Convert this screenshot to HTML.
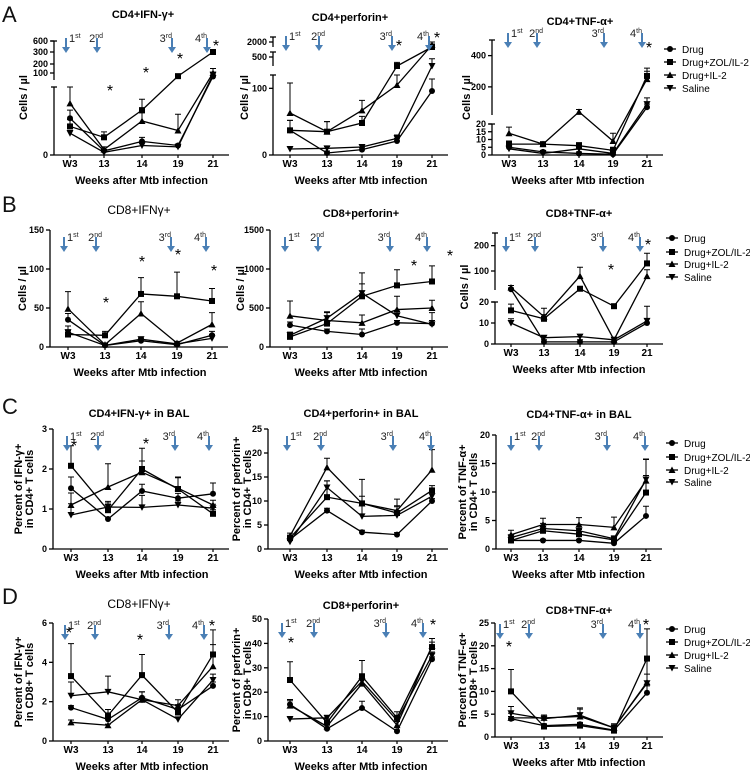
<!DOCTYPE html>
<html><head><meta charset="utf-8">
<style>
body{margin:0;background:#fff;}
svg{display:block;font-family:"Liberation Sans",Arial,sans-serif;}
</style></head>
<body>
<svg id="fig" width="750" height="770" viewBox="0 0 750 770"></svg>
<script>
const weeks=["W3","13","14","19","21"];
const seriesNames=["Drug","Drug+ZOL/IL-2","Drug+IL-2","Saline"];
// A1 CD4+IFN-g+
const A1_drug=[27,3,10,7,80];
const A1_zol=[21,13,33,82,300];
const A1_il2=[38,4,25,18,100];
const A1_sal=[16,2,7,6,90];
const A1_err=[[6,1,3,1,20],[5,4,8,10,40],[12,2,6,12,50],[2,1,2,1,20]];
// A2 CD4+perforin+
const A2_drug=[37,3,8,21,96];
const A2_zol=[37,35,48,400,1500];
const A2_il2=[63,35,67,105,1700];
const A2_sal=[9,10,12,25,400];
const A2_err=[[15,3,3,4,18],[15,15,10,40,300],[45,15,15,15,300],[3,3,3,5,80]];
// A3 CD4+TNF-a+
const A3_drug=[5,2,1,0.5,70];
const A3_zol=[7,7,6,3,270];
const A3_il2=[14,7,40,9,250];
const A3_sal=[4,1,4,1,90];
const A3_err=[[2,1,1,1,20],[2,1,2,2,50],[4,1,15,5,50],[2,1,1,1,40]];
// B1 CD8+IFNg+
const B1_drug=[35,2,8,3,15];
const B1_zol=[16,15,68,65,59];
const B1_il2=[49,3,43,5,29];
const B1_sal=[19,2,10,4,11];
const B1_err=[[8,1,3,1,5],[5,5,21,31,16],[22,1,15,2,15],[8,1,3,1,5]];
// B2 CD8+perforin+
const B2_drug=[280,200,160,310,300];
const B2_zol=[130,300,650,790,840];
const B2_il2=[400,340,310,480,500];
const B2_sal=[150,370,690,400,290];
const B2_err=[[40,30,70,30,40],[40,150,300,200,200],[190,100,100,170,100],[40,80,120,60,150]];
// B3 CD8+TNF-a+
const B3_drug=[28,1,1,1,10];
const B3_zol=[16,12,30,18,130];
const B3_il2=[35,13,80,2,80];
const B3_sal=[10,3,3.5,2,11];
const B3_err=[[5,1,1,1,2],[3,2,3,1,40],[8,4,35,1,25],[2,1,1,1,7]];
// C1
const C1_drug=[1.52,0.75,1.45,1.27,1.38];
const C1_zol=[2.08,0.97,2.0,1.5,0.88];
const C1_il2=[1.1,1.55,1.92,1.52,1.1];
const C1_sal=[0.85,1.05,1.04,1.1,1.02];
const C1_err=[[0.28,0.05,0.17,0.12,0.27],[0.5,0.22,0.52,0.28,0.1],[0.3,0.58,0.28,0.28,0.12],[0.28,0.1,0.3,0.1,0.1]];
// C2
const C2_drug=[2,8,3.5,3,10];
const C2_zol=[2.3,10.8,9.5,7.5,12.2];
const C2_il2=[2.7,17,9.5,8,16.5];
const C2_sal=[1.5,12.8,6.8,7,11];
const C2_err=[[0.5,0.5,0.4,0.4,0.5],[0.6,3.4,5,1.5,1],[0.6,1.9,1.5,2.4,4.2],[0.5,1.4,2.5,1.8,1.5]];
// C3
const C3_drug=[1.5,1.5,1.5,1.0,5.8];
const C3_zol=[1.5,3.2,2.6,1.6,9.9];
const C3_il2=[2.5,4.3,4.3,3.8,12];
const C3_sal=[2.0,3.6,3.2,1.8,12.2];
const C3_err=[[0.3,0.2,0.2,0.2,1.7],[0.4,0.7,0.8,0.3,3],[0.8,1.1,1.2,1.8,3.8],[0.5,0.9,1.1,0.5,3.5]];
// D1
const D1_drug=[1.7,1.1,2.2,1.6,2.8];
const D1_zol=[3.3,1.3,3.35,1.45,4.4];
const D1_il2=[0.95,0.8,2.1,1.8,3.8];
const D1_sal=[2.3,2.5,2.1,1.1,3.1];
const D1_err=[[0.1,0.1,0.3,0.2,0.2],[1.65,0.3,1.05,0.4,1.25],[0.12,0.06,0.4,0.3,1.1],[0.7,0.8,0.4,0.1,0.3]];
// D2
const D2_drug=[15,5,13.5,4,33.5];
const D2_zol=[25,7.5,26.5,9.5,38.5];
const D2_il2=[14.5,6,23.5,6.5,39];
const D2_sal=[9,9.5,24.5,8.5,35];
const D2_err=[[1.5,0.6,2.8,0.5,1],[7.5,1.5,6.5,2.5,2],[2.5,1,3,1.5,3],[0.8,1,3,1,1.5]];
// D3
const D3_drug=[4,2.5,2.8,1.5,9.7];
const D3_zol=[10,2.3,2.5,1.4,17.2];
const D3_il2=[4.2,4.2,4.5,2.0,12];
const D3_sal=[5.2,4.0,4.8,2.0,11.8];
const D3_err=[[0.5,0.4,0.4,0.3,1.5],[4.8,0.5,0.5,0.4,6.5],[1,0.6,1.9,0.9,5],[1.5,0.8,1.3,0.8,2]];

const NS="http://www.w3.org/2000/svg";
const svg=document.getElementById("fig");
function mk(tag,attrs,parent){const e=document.createElementNS(NS,tag);for(const k in attrs)e.setAttribute(k,attrs[k]);(parent||svg).appendChild(e);return e;}
function yScale(segs){
  return function(v){
    let pts=null;
    for(const s of segs){if(v>=s[0][0]&&v<=s[s.length-1][0]){pts=s;break;}}
    if(!pts){pts=v<segs[0][0][0]?segs[0]:segs[segs.length-1];}
    for(let i=0;i<pts.length-1;i++){
      const a=pts[i],b=pts[i+1];
      if(v<=b[0]||i===pts.length-2){return a[1]+(v-a[0])/(b[0]-a[0])*(b[1]-a[1]);}
    }
  };
}
function marker(g,kind,x,y){
  let e;
  if(kind===0){e=mk("circle",{cx:x,cy:y,r:3,fill:"#000"},g);}
  else if(kind===1){e=mk("rect",{x:x-3,y:y-3,width:6,height:6,fill:"#000"},g);}
  else if(kind===2){e=mk("polygon",{points:`${x},${y-3.5} ${x-3.5},${y+3} ${x+3.5},${y+3}`,fill:"#000"},g);}
  else {e=mk("polygon",{points:`${x},${y+3.5} ${x-3.5},${y-3} ${x+3.5},${y-3}`,fill:"#000"},g);}
  
  
}
const ords=[["1","st"],["2","nd"],["3","rd"],["4","th"]];
function panel(p){
  const g=mk("g",{});
  
  
  const y=yScale(p.segs);
  const t=mk("text",{x:p.tx,y:p.ty,"text-anchor":"middle","font-size":p.tbold?11:12,"font-weight":p.tbold?"bold":"normal",fill:"#000"},g);
  t.textContent=p.title;
  
  
  for(const s of p.segs){
    const a=mk("line",{x1:p.ax,x2:p.ax,y1:s[0][1],y2:s[s.length-1][1],stroke:"#000","stroke-width":1.3},g);
    
    
    if(p.segs.length>1){mk("line",{x1:p.ax-3,x2:p.ax+3,y1:s[s.length-1][1],y2:s[s.length-1][1],stroke:"#000","stroke-width":1.3},g);}
  }
  for(const tk of p.ticks){
    const yy=y(tk);
    mk("line",{x1:p.ax-4,x2:p.ax,y1:yy,y2:yy,stroke:"#000","stroke-width":1.3},g);
    const l=mk("text",{x:p.ax-6,y:yy+3,"text-anchor":"end","font-size":9,"font-weight":"bold"},g);
    l.textContent=tk;
    
    
  }
  const xb=p.xbase;
  const xa=mk("line",{x1:p.ax,x2:p.xs[4]+16,y1:xb,y2:xb,stroke:"#000","stroke-width":1.3},g);
  
  
  weeks.forEach((w,i)=>{
    mk("line",{x1:p.xs[i],x2:p.xs[i],y1:xb,y2:xb+3,stroke:"#000","stroke-width":1.2},g);
    const l=mk("text",{x:p.xs[i],y:xb+12,"text-anchor":"middle","font-size":10,"font-weight":"bold"},g);
    l.textContent=w;
    
    
  });
  const xt=mk("text",{x:(p.xs[0]+p.xs[4])/2,y:xb+29,"text-anchor":"middle","font-size":11,"font-weight":"bold"},g);
  xt.textContent="Weeks after Mtb infection";
  
  
  const yc=(p.ytop+xb)/2;
  p.ylab.forEach((txt,i)=>{
    const lx=p.ylx+i*11;
    const yl=mk("text",{x:lx,y:yc,transform:`rotate(-90 ${lx} ${yc})`,"text-anchor":"middle","font-size":11,"font-weight":"bold"},g);
    yl.textContent=txt;
    
    
  });
  p.series.forEach((d,si)=>{
    const pts=d.map((v,i)=>[p.xs[i],y(v)]);
    const pl=mk("polyline",{points:pts.map(q=>q.join(",")).join(" "),fill:"none",stroke:"#000","stroke-width":1.3},g);
    
    
    d.forEach((v,i)=>{
      const e=p.err[si][i];
      const y0=y(v),y1=y(v+e);
      const eb=mk("path",{d:`M${p.xs[i]},${y0}V${y1}M${p.xs[i]-3},${y1}H${p.xs[i]+3}`,stroke:"#000","stroke-width":1,fill:"none"},g);
      
      
      marker(g,si,p.xs[i],y0);
    });
  });
  p.arrows.forEach((ax,i)=>{
    const ag=mk("g",{},g);
    
    
    mk("line",{x1:ax,x2:ax,y1:p.ay,y2:p.ay+10,stroke:"#4a7fb5","stroke-width":2},ag);
    mk("polygon",{points:`${ax-4},${p.ay+9} ${ax+4},${p.ay+9} ${ax},${p.ay+15}`,fill:"#4a7fb5"},ag);
    const anchor=i===0?"start":"end";
    const lx=i===0?ax+3:(i===1?ax+6:ax);
    const tl=mk("text",{x:lx,y:p.ay+4,"text-anchor":anchor,"font-size":11,fill:"#222"},ag);
    tl.textContent=ords[i][0];
    const sp=mk("tspan",{"font-size":7,dy:-4},tl);
    sp.textContent=ords[i][1];
  });
  p.stars.forEach(s=>{
    const st=mk("text",{x:s[0],y:s[1]+8,"text-anchor":"middle","font-size":16},g);
    st.textContent="*";
    
    
  });
}
function legend(x,ys){
  const g=mk("g",{});
  
  
  seriesNames.forEach((n,i)=>{
    mk("line",{x1:x-6,x2:x+6,y1:ys[i],y2:ys[i],stroke:"#000","stroke-width":1.3},g);
    marker(g,i,x,ys[i]);
    const t=mk("text",{x:x+12,y:ys[i]+4,"font-size":10},g);
    t.textContent=n;
    
    
  });
}
function letter(ch,y){const t=mk("text",{x:2,y:y,"font-size":22,fill:"#111"});t.textContent=ch;}
letter("A",22);letter("B",212);letter("C",414);letter("D",604);

const c1x=[70,104,142,178,213],c2x=[290,327,362,397,432],c3x=[509,543,579,613,647];
const cellsLab=["Cells / µl"];
panel({name:"panel-a1",title:"CD4+IFN-γ+",tx:143,ty:18,tbold:true,ax:54,xs:c1x,xbase:155,ytop:40,
  segs:[[[0,155],[50,87]],[[60,80],[100,73],[200,64],[300,52],[600,41]]],ticks:[0,100,200,300,600],
  series:[A1_drug,A1_zol,A1_il2,A1_sal],err:A1_err,arrows:[66,97,172,207],ay:38,
  stars:[[110,88],[146,70],[180,56],[216,43]],ylab:cellsLab,ylx:27});
panel({name:"panel-a2",title:"CD4+perforin+",tx:350,ty:21,tbold:true,ax:273,xs:c2x,xbase:155,ytop:40,
  segs:[[[0,155],[120,75]],[[400,66],[500,57],[600,52]],[[1500,47],[2000,42],[2500,37]]],ticks:[0,100,500,2000],
  series:[A2_drug,A2_zol,A2_il2,A2_sal],err:A2_err,arrows:[286,319,392,429],ay:36,
  stars:[[399,43],[437,35]],ylab:cellsLab,ylx:248});
panel({name:"panel-a3",title:"CD4+TNF-α+",tx:580,ty:25,tbold:true,ax:492,xs:c3x,xbase:155,ytop:40,
  segs:[[[0,155],[20,124]],[[20,115],[500,40]]],ticks:[0,5,10,15,20,200,400],
  series:[A3_drug,A3_zol,A3_il2,A3_sal],err:A3_err,arrows:[508,537,604,642],ay:33,
  stars:[[649,45]],ylab:cellsLab,ylx:470});
legend(670,[49,62,75,88]);

panel({name:"panel-b1",title:"CD8+IFNγ+",tx:139,ty:214,tbold:false,ax:50,xs:[68,105,141,177,212],xbase:347,ytop:230,
  segs:[[[0,347],[150,230]]],ticks:[0,50,100,150],
  series:[B1_drug,B1_zol,B1_il2,B1_sal],err:B1_err,arrows:[64,96,171,206],ay:237,
  stars:[[106,300],[142,259],[178,252],[214,268]],ylab:cellsLab,ylx:26});
panel({name:"panel-b2",title:"CD8+perforin+",tx:361,ty:217,tbold:true,ax:270,xs:c2x,xbase:347,ytop:230,
  segs:[[[0,347],[1500,230]]],ticks:[0,500,1000,1500],
  series:[B2_drug,B2_zol,B2_il2,B2_sal],err:B2_err,arrows:[285,318,390,427],ay:237,
  stars:[[414,263],[450,253]],ylab:cellsLab,ylx:244});
panel({name:"panel-b3",title:"CD8+TNF-α+",tx:579,ty:217,tbold:true,ax:495,xs:[511,544,580,614,647],xbase:344,ytop:230,
  segs:[[[0,344],[20,302]],[[25,290],[250,233]]],ticks:[0,10,20,100,200],
  series:[B3_drug,B3_zol,B3_il2,B3_sal],err:B3_err,arrows:[506,535,603,640],ay:237,
  stars:[[611,267],[648,242]],ylab:cellsLab,ylx:468});
legend(672,[238,252,264,277]);

panel({name:"panel-c1",title:"CD4+IFN-γ+ in BAL",tx:139,ty:417,tbold:true,ax:53,xs:[71,108,142,178,213],xbase:549,ytop:429,
  segs:[[[0,549],[3,429]]],ticks:[0,1,2,3],
  series:[C1_drug,C1_zol,C1_il2,C1_sal],err:C1_err,arrows:[67,98,175,209],ay:436,
  stars:[[74,443],[146,441]],ylab:["Percent of IFN-γ+","in CD4+ T cells"],ylx:22});
panel({name:"panel-c2",title:"CD4+perforin+ in BAL",tx:361,ty:417,tbold:true,ax:268,xs:c2x,xbase:549,ytop:429,
  segs:[[[0,549],[25,429]]],ticks:[0,5,10,15,20,25],
  series:[C2_drug,C2_zol,C2_il2,C2_sal],err:C2_err,arrows:[287,321,393,431],ay:436,
  stars:[],ylab:["Percent of perforin+","in CD4+ T cells"],ylx:240});
panel({name:"panel-c3",title:"CD4+TNF-α+ in BAL",tx:579,ty:418,tbold:true,ax:496,xs:[511,543,579,614,646],xbase:549,ytop:435,
  segs:[[[0,549],[20,435]]],ticks:[0,5,10,15,20],
  series:[C3_drug,C3_zol,C3_il2,C3_sal],err:C3_err,arrows:[511,539,607,645],ay:436,
  stars:[],ylab:["Percent of TNF-α+","in CD4+ T cells"],ylx:466});
legend(672,[443,457,470,482]);

panel({name:"panel-d1",title:"CD8+IFNγ+",tx:139,ty:608,tbold:false,ax:53,xs:[71,108,142,178,213],xbase:741,ytop:623,
  segs:[[[0,741],[6,623]]],ticks:[0,2,4,6],
  series:[D1_drug,D1_zol,D1_il2,D1_sal],err:D1_err,arrows:[65,95,169,204],ay:625,
  stars:[[69,630],[140,637],[212,623]],ylab:["Percent of IFN-γ+","in CD8+ T cells"],ylx:22});
panel({name:"panel-d2",title:"CD8+perforin+",tx:361,ty:609,tbold:true,ax:268,xs:c2x,xbase:741,ytop:619,
  segs:[[[0,741],[50,619]]],ticks:[0,10,20,30,40,50],
  series:[D2_drug,D2_zol,D2_il2,D2_sal],err:D2_err,arrows:[282,314,386,423],ay:623,
  stars:[[291,640],[433,622]],ylab:["Percent of perforin+","in CD8+ T cells"],ylx:240});
panel({name:"panel-d3",title:"CD8+TNF-α+",tx:579,ty:614,tbold:true,ax:495,xs:[511,544,580,614,647],xbase:737,ytop:623,
  segs:[[[0,737],[25,623]]],ticks:[0,5,10,15,20,25],
  series:[D3_drug,D3_zol,D3_il2,D3_sal],err:D3_err,arrows:[500,529,603,640],ay:624,
  stars:[[509,644],[646,622]],ylab:["Percent of TNF-α+","in CD8+ T cells"],ylx:466});
legend(672,[629,642,655,668]);
</script>
</body></html>
